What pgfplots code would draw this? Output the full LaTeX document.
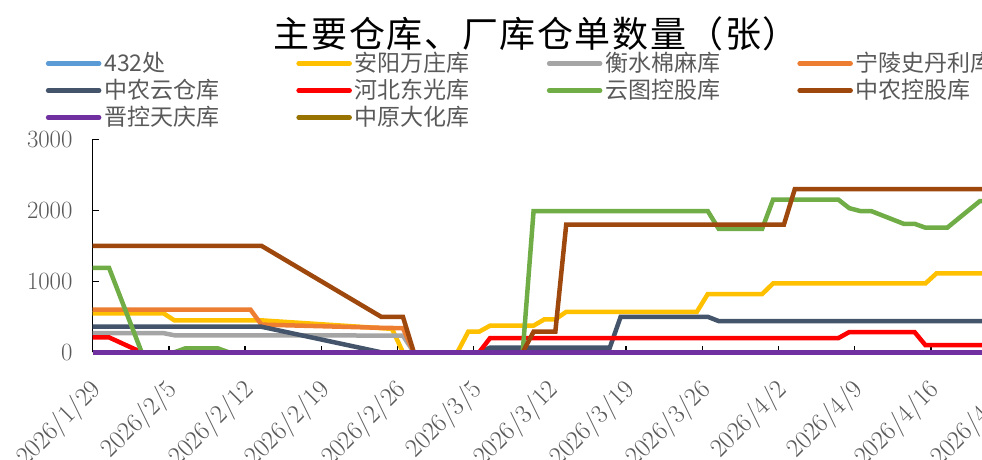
\documentclass[border=0pt]{standalone}
\usepackage{fontspec}
\usepackage{pgfplots}
\pgfplotsset{compat=1.18}
\newfontfamily\cjk{Noto Sans CJK SC}
\newfontfamily\cjktitle{Noto Sans CJK SC}[LetterSpace=4.5]
\definecolor{cA}{HTML}{5B9BD5}
\definecolor{cB}{HTML}{FFC000}
\definecolor{cC}{HTML}{A5A5A5}
\definecolor{cD}{HTML}{ED7D31}
\definecolor{cE}{HTML}{44546A}
\definecolor{cF}{HTML}{FF0000}
\definecolor{cG}{HTML}{70AD47}
\definecolor{cH}{HTML}{9E480E}
\definecolor{cI}{HTML}{7030A0}
\definecolor{cJ}{HTML}{997300}
\definecolor{tickgray}{HTML}{595959}
\definecolor{leggray}{HTML}{595959}
\begin{document}
\begin{tikzpicture}
\begin{axis}[
  width=914.4bp, height=213bp, scale only axis,
  xmin=0, xmax=84, ymin=0, ymax=3000,
  clip=false,
  axis x line*=bottom, axis y line*=left,
  axis line style={black, line width=1.5bp},
  xtick={0,7,...,84},
  xticklabels={2026/1/29,2026/2/5,2026/2/12,2026/2/19,2026/2/26,2026/3/5,2026/3/12,2026/3/19,2026/3/26,2026/4/2,2026/4/9,2026/4/16,2026/4/23},
  ytick={0,1000,2000,3000},
  scaled y ticks=false,
  /pgf/number format/1000 sep={},
  tick align=inside,
  major tick length=6bp,
  tick style={black, line width=1.4bp},
  xticklabel style={font=\fontsize{26bp}{30bp}\selectfont, text=tickgray, inner sep=0pt, xshift=5bp, yshift=-34bp, rotate=45, anchor=east},
  yticklabel style={font=\fontsize{23bp}{27bp}\selectfont, text=tickgray, inner sep=0pt, xshift=-20bp, anchor=east},
  legend columns=4,
  legend cell align=left,
  legend style={at={(axis description cs:-0.0514,1.4108)}, anchor=north west, draw=none, fill=none, inner sep=0pt, row sep=4bp,
    font=\cjk\fontsize{23bp}{26bp}\selectfont, text=leggray,
    nodes={inner sep=0pt, text height=20bp, text depth=3bp},
    /tikz/every odd column/.style={column sep=3bp}},
  legend image code/.code={\draw[#1, line width=4.5bp, line cap=round] (0bp,0bp) -- (51bp,0bp);},
]
% 432处
\addplot[cA, line width=4.5bp, no markers] coordinates {(0,0) (83.5,0)};
\addlegendentry{\makebox[192bp][l]{432处}}
% 安阳万庄库
\addplot[cB, line width=4.5bp, no markers] coordinates {(0,550) (6.5,550) (7.5,450) (15.5,450) (26.5,340) (27.5,330) (28.5,0) (33.5,0) (34.5,290) (35.5,290) (36.5,375) (40.5,375) (41.5,465) (42.5,465) (43.5,570) (55.5,570) (56.5,820) (61.5,820) (62.5,970) (76.5,970) (77.5,1110) (83.5,1110)};
\addlegendentry{\makebox[192bp][l]{安阳万庄库}}
% 衡水棉麻库
\addplot[cC, line width=4.5bp, no markers] coordinates {(0,270) (6.5,270) (7.5,240) (15.5,240) (28.5,235) (29.5,0) (83.5,0)};
\addlegendentry{\makebox[192bp][l]{衡水棉麻库}}
% 宁陵史丹利库
\addplot[cD, line width=4.5bp, no markers] coordinates {(0,600) (14.5,600) (15.5,390) (26.5,345) (28.5,340) (29.5,0) (83.5,0)};
\addlegendentry{\makebox[192bp][l]{宁陵史丹利库}}
% 中农云仓库
\addplot[cE, line width=4.5bp, no markers] coordinates {(0,360) (15.5,360) (26.5,0) (35.5,0) (36.5,65) (47.5,65) (48.5,500) (56.5,500) (57.5,440) (83.5,440)};
\addlegendentry{\makebox[192bp][l]{中农云仓库}}
% 河北东光库
\addplot[cF, line width=4.5bp, no markers] coordinates {(0,210) (1.5,210) (4.5,0) (35.5,0) (36.5,200) (68.5,200) (69.5,285) (75.5,285) (76.5,100) (83.5,100)};
\addlegendentry{\makebox[192bp][l]{河北东光库}}
% 云图控股库
\addplot[cG, line width=4.5bp, no markers] coordinates {(0,1190) (1.5,1190) (4.5,0) (7.5,0) (8.5,55) (11.5,55) (12.5,0) (39.5,0) (40.5,1990) (56.5,1990) (57.5,1740) (61.5,1740) (62.5,2150) (68.5,2150) (69.5,2030) (70.5,1990) (71.5,1990) (72.5,1930) (73.5,1870) (74.5,1810) (75.5,1810) (76.5,1755) (78.5,1755) (79.5,1880) (80.5,2005) (81.5,2130) (83.5,2130)};
\addlegendentry{\makebox[192bp][l]{云图控股库}}
% 中农控股库
\addplot[cH, line width=4.5bp, no markers] coordinates {(0,1500) (15.5,1500) (26.5,500) (28.5,500) (29.5,0) (39.5,0) (40.5,290) (42.5,290) (43.5,1800) (63.5,1800) (64.5,2300) (83.5,2300)};
\addlegendentry{\makebox[192bp][l]{中农控股库}}
% 中原大化库 (drawn below 晋控天庆库)
\addplot[cJ, line width=4.5bp, no markers, forget plot] coordinates {(0,0) (83.5,0)};
% 晋控天庆库
\addplot[cI, line width=4.5bp, no markers, forget plot] coordinates {(0,0) (83.5,0)};
\addlegendimage{cI}
\addlegendentry{\makebox[192bp][l]{晋控天庆库}}
\addlegendimage{cJ}
\addlegendentry{\makebox[192bp][l]{中原大化库}}
\coordinate (O) at (axis cs:0,0);
\node[font=\cjktitle\fontsize{36bp}{40bp}\selectfont, text=black, anchor=center] at (axis description cs:0.4853,1.4944) {主要仓库、厂库仓单数量（张）};
\end{axis}
\pgfresetboundingbox
\useasboundingbox ([shift={(-92.7bp,-107.7bp)}]O) rectangle ([shift={(889.3bp,352.3bp)}]O);
\end{tikzpicture}
\end{document}
